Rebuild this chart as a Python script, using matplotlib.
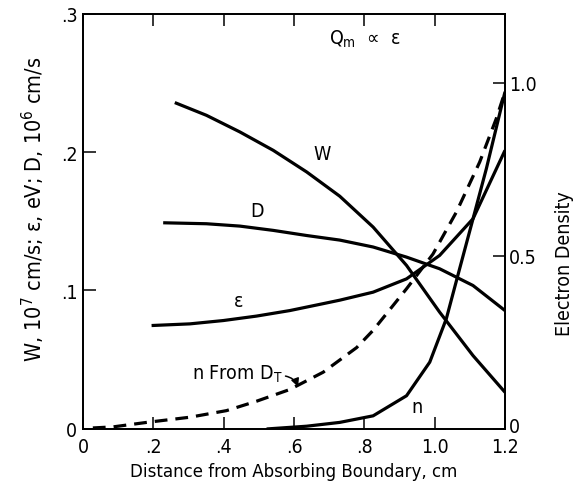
import matplotlib
matplotlib.use("Agg")
import matplotlib.pyplot as plt
import matplotlib.transforms as mtransforms
import numpy as np

plt.rcParams['font.family'] = ['DejaVu Sans']
plt.rcParams['font.stretch'] = 'condensed'
plt.rcParams['mathtext.fontset'] = 'custom'
plt.rcParams['mathtext.rm'] = 'DejaVu Sans:stretch=condensed'

# drift velocity W, 10^7 cm/s
w_x = [0.261, 0.351, 0.446, 0.541, 0.636, 0.730, 0.825, 0.920, 1.014, 1.109, 1.2]
w_y = [0.2357, 0.2265, 0.2145, 0.2012, 0.1856, 0.1681, 0.1458, 0.1181, 0.0844, 0.0530, 0.0265]

# diffusion D, 10^6 cm/s
d_x = [0.228, 0.351, 0.446, 0.541, 0.636, 0.730, 0.825, 0.920, 1.014, 1.109, 1.2]
d_y = [0.1489, 0.1482, 0.1465, 0.1434, 0.1397, 0.1364, 0.1314, 0.1241, 0.1157, 0.1036, 0.0855]

# mean energy eps, eV
e_x = [0.195, 0.304, 0.399, 0.493, 0.588, 0.683, 0.730, 0.825, 0.920, 1.014, 1.109, 1.2]
e_y = [0.0747, 0.0759, 0.0783, 0.0815, 0.0855, 0.0905, 0.0930, 0.0988, 0.1084, 0.1253, 0.1518, 0.2012]

# electron density from D_T (dashed), right axis
nd_x = [0.028, 0.085, 0.181, 0.304, 0.408, 0.493, 0.588, 0.683, 0.778, 0.825, 0.920, 0.995, 1.062, 1.128, 1.175, 1.2]
nd_y = [0.003, 0.006, 0.019, 0.034, 0.053, 0.080, 0.114, 0.164, 0.235, 0.285, 0.405, 0.505, 0.627, 0.771, 0.896, 0.974]

# electron density n (solid), right axis
n_x = [0.522, 0.636, 0.730, 0.825, 0.920, 0.986, 1.033, 1.071, 1.109, 1.147, 1.2]
n_y = [0.0, 0.008, 0.019, 0.038, 0.096, 0.193, 0.318, 0.463, 0.607, 0.752, 0.974]

x_ticks = [0, 0.2, 0.4, 0.6, 0.8, 1.0, 1.2]
x_labels = ['0', '.2', '.4', '.6', '.8', '1.0', '1.2']
yl_ticks = [0, 0.1, 0.2, 0.3]
yl_labels = ['0', '.1', '.2', '.3']
yr_ticks = [0, 0.5, 1.0]
yr_labels = ['0', '0.5', '1.0']

fig = plt.figure(figsize=(5.74, 4.89), dpi=100)
ax = fig.add_axes([0.1446, 0.1207, 0.7352, 0.8496])
ax2 = ax.twinx()

lw = 2.3
kw = dict(color='black', lw=lw, solid_joinstyle='round', solid_capstyle='butt')
ax.plot(w_x, w_y, **kw)
ax.plot(d_x, d_y, **kw)
ax.plot(e_x, e_y, **kw)
ax2.plot(nd_x, nd_y, color='black', lw=lw, ls=(0, (4, 2.5)))
ax2.plot(n_x, n_y, **kw)

ax.set_xlim(0, 1.2)
ax.set_ylim(0, 0.3)
ax2.set_ylim(0, 1.2)

ax.set_xticks(x_ticks)
ax.set_xticklabels(x_labels)
ax.set_yticks(yl_ticks)
ax.set_yticklabels(yl_labels)
ax2.set_yticks(yr_ticks)
ax2.set_yticklabels(yr_labels)

ax.tick_params(axis='x', direction='in', top=True, length=8.5, width=1.1, labelsize=14, pad=6)
ax.tick_params(axis='y', direction='in', length=9, width=1.1, labelsize=14, pad=4)
ax2.tick_params(axis='y', direction='in', length=8.5, width=1.1, labelsize=14, pad=3)
# lift the right-hand "0" a touch so it clears the "1.2" below it
lbl0 = ax2.get_yticklabels()[0]
lbl0.set_transform(lbl0.get_transform() + mtransforms.ScaledTranslation(0, 3.5 / 72, fig.dpi_scale_trans))
for a in (ax, ax2):
    for s in a.spines.values():
        s.set_linewidth(1.3)

ax.set_xlabel('Distance from Absorbing Boundary, cm', fontsize=13.3)
ax.xaxis.set_label_coords(0.5, -0.08)
ax.set_ylabel(r'W, 10$^7$ cm/s; ε, eV; D, 10$^6$ cm/s', fontsize=15.5)
ax.yaxis.set_label_coords(-0.085, 0.53)
ax2.set_ylabel('Electron Density', fontsize=14)
ax2.yaxis.set_label_coords(1.118, 0.40)

ax.text(0.70, 0.282, r'Q$_\mathrm{m}$  ∝  ε', fontsize=14, va='center')
ax.text(0.655, 0.199, 'W', fontsize=14, va='center')
ax.text(0.476, 0.158, 'D', fontsize=14, va='center')
ax.text(0.428, 0.0925, 'ε', fontsize=14, va='center')
ax.text(0.935, 0.016, 'n', fontsize=14, va='center')
ax.text(0.31, 0.040, r'n From D$_\mathrm{T}$', fontsize=14, va='center')
ax.annotate('', xy=(0.614, 0.0285), xytext=(0.568, 0.0385),
            arrowprops=dict(arrowstyle='-|>', color='black', lw=1.1,
                            connectionstyle='arc3,rad=-0.35', mutation_scale=12))

fig.savefig('out.png', dpi=100)
